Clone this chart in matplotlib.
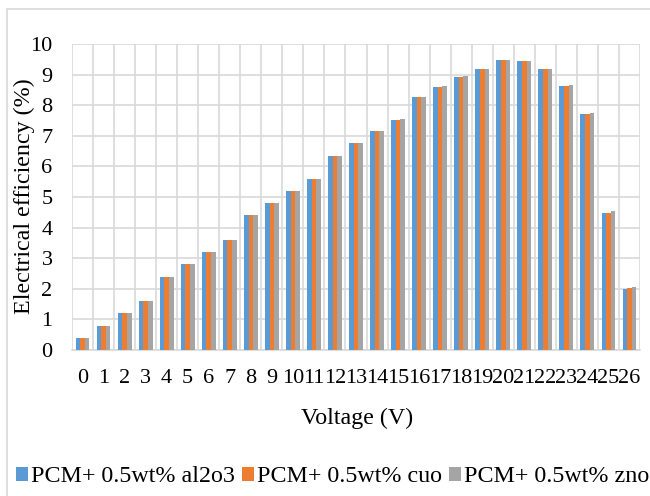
import numpy as np
import matplotlib as mpl
import matplotlib.pyplot as plt
from matplotlib.patches import Rectangle

mpl.rcParams.update({
    "font.family": "Liberation Serif", "font.size": 16,
})

voltage = list(range(27))
al2o3 = [0.4, 0.8, 1.2, 1.6, 2.4, 2.8, 3.2, 3.6, 4.4, 4.8, 5.2, 5.6, 6.35, 6.75,
         7.15, 7.53, 8.27, 8.61, 8.91, 9.18, 9.48, 9.43, 9.17, 8.62, 7.71, 4.47, 1.99]
cuo = [0.4, 0.8, 1.2, 1.6, 2.4, 2.8, 3.2, 3.6, 4.4, 4.8, 5.2, 5.6, 6.35, 6.75,
       7.15, 7.53, 8.27, 8.61, 8.92, 9.18, 9.48, 9.43, 9.18, 8.63, 7.72, 4.49, 2.01]
zno = [0.4, 0.8, 1.2, 1.6, 2.4, 2.8, 3.2, 3.6, 4.4, 4.8, 5.2, 5.6, 6.35, 6.76,
       7.15, 7.54, 8.27, 8.62, 8.94, 9.19, 9.49, 9.43, 9.18, 8.65, 7.76, 4.54, 2.07]
labels = ["PCM+ 0.5wt% al2o3", "PCM+ 0.5wt% cuo", "PCM+ 0.5wt% zno"]
colors = ["#5B9BD5", "#ED7D31", "#A5A5A5"]
GRID = "#d9d9d9"

fig = plt.figure(figsize=(6.5, 4.96), dpi=100)
ax = fig.add_axes([72 / 650, 1 - 350 / 496, 568 / 650, 306 / 496])

# chart area border (runs off the right and bottom edge)
fig.patches.append(Rectangle((7 / 650, -0.1), 1.2, 1.1 - 9 / 496, transform=fig.transFigure,
                             fill=False, edgecolor=GRID, linewidth=1.2))

x = np.arange(len(voltage))
w = 0.22
for i, (vals, lab, c) in enumerate(zip([al2o3, cuo, zno], labels, colors)):
    ax.bar(x + (i - 1) * w, vals, w, color=c, label=lab, zorder=3)

ax.set_xlim(-0.5, len(voltage) - 0.5)
ax.set_ylim(0, 10)
ax.set_yticks(range(11))
ax.set_xticks(x)
ax.set_xticklabels([str(v) for v in voltage])
ax.set_xticks(np.arange(-0.5, len(voltage)), minor=True)
ax.grid(True, which="major", axis="y", color=GRID, linewidth=1.2, zorder=0)
ax.grid(True, which="minor", axis="x", color=GRID, linewidth=1.2, zorder=0)
ax.tick_params(which="both", length=0)
ax.tick_params(axis="x", pad=14)
ax.tick_params(axis="y", pad=14)
for s in ["top", "right", "left"]:
    ax.spines[s].set_visible(False)
ax.spines["bottom"].set_color(GRID)
ax.spines["bottom"].set_linewidth(1.2)

fig.text(357 / 650, 1 - 418 / 496, "Voltage (V)", ha="center", va="center", fontsize=17.3)
fig.text(24 / 650, 1 - 196 / 496, "Electrical efficiency (%)", ha="center", va="center",
         rotation=90, fontsize=17.3)

fig.legend(loc="center left", bbox_to_anchor=(16 / 650, 1 - 477 / 496), ncol=3,
           frameon=False, handlelength=0.5, handleheight=0.5, handletextpad=0.12,
           columnspacing=0.3, borderaxespad=0, borderpad=0, fontsize=17.3)

fig.savefig("out.png", dpi=100)
